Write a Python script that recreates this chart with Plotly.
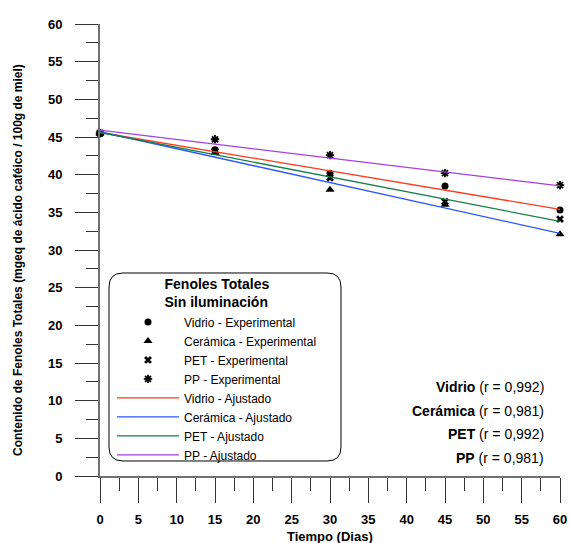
import plotly.graph_objects as go

# Días de almacenamiento
dias = [0, 15, 30, 45, 60]

# Fenoles totales medidos (mgeq ácido caféico / 100 g de miel)
vidrio_exp = [45.5, 43.3, 40.2, 38.5, 35.3]
ceramica_exp = [45.5, 42.9, 38.0, 36.0, 32.1]
pet_exp = [45.5, 43.1, 39.6, 36.4, 34.1]
pp_exp = [45.5, 44.7, 42.6, 40.2, 38.6]

# Rectas ajustadas (valores en el día 0 y el día 60)
dias_ajuste = [0, 60]
vidrio_aj = [45.6, 35.4]
ceramica_aj = [45.7, 32.2]
pet_aj = [45.6, 33.8]
pp_aj = [45.9, 38.5]

# Coeficientes de correlación
envases = ["Vidrio", "Cerámica", "PET", "PP"]
r_vals = ["0,992", "0,981", "0,992", "0,981"]

FONT = "Arial, Liberation Sans, sans-serif"

W, H = 570, 543
L, R, T, B = 100, 10, 24, 67
pw, ph = W - L - R, H - T - B


def px_to_paper(px, py):
    return (px - L) / pw, (H - B - py) / ph


fig = go.Figure()

exp_series = [
    ("Vidrio - Experimental", vidrio_exp, "circle", 7, 0),
    ("Cerámica - Experimental", ceramica_exp, "triangle-up", 8, 0),
    ("PET - Experimental", pet_exp, "x", 7, 0),
    ("PP - Experimental", pp_exp, "asterisk-open", 7, 1.8),
]
for name, vals, sym, size, lw in exp_series:
    fig.add_trace(go.Scatter(
        x=dias, y=vals, mode="markers", name=name,
        marker=dict(symbol=sym, size=size, color="black",
                    line=dict(color="black", width=lw)),
        cliponaxis=False,
    ))

fit_series = [
    ("Vidrio - Ajustado", vidrio_aj, "#ff3a1a"),
    ("Cerámica - Ajustado", ceramica_aj, "#2a55ff"),
    ("PET - Ajustado", pet_aj, "#12814a"),
    ("PP - Ajustado", pp_aj, "#a63fe0"),
]
for name, vals, col in fit_series:
    fig.add_trace(go.Scatter(
        x=dias_ajuste, y=vals, mode="lines", name=name,
        line=dict(color=col, width=1.3),
        cliponaxis=False,
    ))

# Recuadro redondeado de la leyenda (en píxeles, convertido a coordenadas de papel)
x0, x1, y0, y1, rr = 109, 341, 273, 461, 14
path = (f"M {x0+rr},{y0} L {x1-rr},{y0} Q {x1},{y0} {x1},{y0+rr} "
        f"L {x1},{y1-rr} Q {x1},{y1} {x1-rr},{y1} L {x0+rr},{y1} "
        f"Q {x0},{y1} {x0},{y1-rr} L {x0},{y0+rr} Q {x0},{y0} {x0+rr},{y0} Z")
conv = []
for tok in path.split():
    if "," in tok:
        a, b = tok.split(",")
        xp, yp = px_to_paper(float(a), float(b))
        conv.append(f"{xp:.5f},{yp:.5f}")
    else:
        conv.append(tok)
fig.add_shape(type="path", path=" ".join(conv), xref="paper", yref="paper",
              line=dict(color="black", width=1), fillcolor="white", layer="below")

# Anotaciones de correlación
r_y = [11.8, 8.6, 5.6, 2.4]
for env, r, yy in zip(envases, r_vals, r_y):
    fig.add_annotation(
        x=(546 - L) / pw, xref="paper", y=yy, yref="y",
        text=f"<b>{env}</b> (r = {r})", showarrow=False,
        xanchor="right", yanchor="middle",
        font=dict(family=FONT, size=14, color="black"),
    )

# Títulos de los ejes
tx, ty = px_to_paper(330, 536)
fig.add_annotation(
    x=tx, y=ty, xref="paper", yref="paper", showarrow=False,
    text="<b>Tiempo (Dias)</b>", xanchor="center", yanchor="middle",
    font=dict(family=FONT, size=13, color="black"),
)
yx, yy_ = px_to_paper(18, 260)
fig.add_annotation(
    x=yx, y=yy_, xref="paper", yref="paper", showarrow=False,
    text="<b>Contenido de Fenoles Totales (mgeq de ácido caféico / 100g de miel)</b>",
    textangle=-90, xanchor="center", yanchor="middle",
    font=dict(family=FONT, size=12, color="black"),
)

lx, ly = px_to_paper(112, 271)
fig.update_layout(
    width=W, height=H,
    margin=dict(l=L, r=R, t=T, b=B, autoexpand=False),
    paper_bgcolor="white", plot_bgcolor="white",
    font=dict(family=FONT, color="black"),
    showlegend=True,
    legend=dict(
        x=lx, y=ly, xanchor="left", yanchor="top",
        bgcolor="rgba(0,0,0,0)", borderwidth=0,
        font=dict(family=FONT, size=12, color="black"),
        title=dict(text="<b>Fenoles Totales<br>Sin iluminación</b>",
                   side="top center",
                   font=dict(family=FONT, size=14, color="black")),
        itemwidth=62, tracegroupgap=0,
    ),
    xaxis=dict(
        range=[0, 60], tickmode="linear", tick0=0, dtick=5,
        showgrid=False, zeroline=False, automargin=False,
        showline=True, linecolor="#707070", linewidth=2,
        ticks="outside", ticklen=25, tickwidth=1, tickcolor="#333333",
        ticklabelstandoff=5,
        tickfont=dict(family=FONT, size=13, color="black", weight="bold"),
        minor=dict(ticks="outside", ticklen=13, dtick=2.5, tick0=0,
                   tickcolor="#333333", tickwidth=1, showgrid=False),
    ),
    yaxis=dict(
        range=[0, 60], tickmode="linear", tick0=0, dtick=5,
        showgrid=False, zeroline=False, automargin=False,
        showline=True, linecolor="#707070", linewidth=2,
        ticks="outside", ticklen=23, tickwidth=1, tickcolor="#333333",
        ticklabelstandoff=10,
        tickfont=dict(family=FONT, size=13, color="black", weight="bold"),
        minor=dict(ticks="outside", ticklen=12, dtick=2.5, tick0=0,
                   tickcolor="#333333", tickwidth=1, showgrid=False),
    ),
)

fig.write_html("out.html")
